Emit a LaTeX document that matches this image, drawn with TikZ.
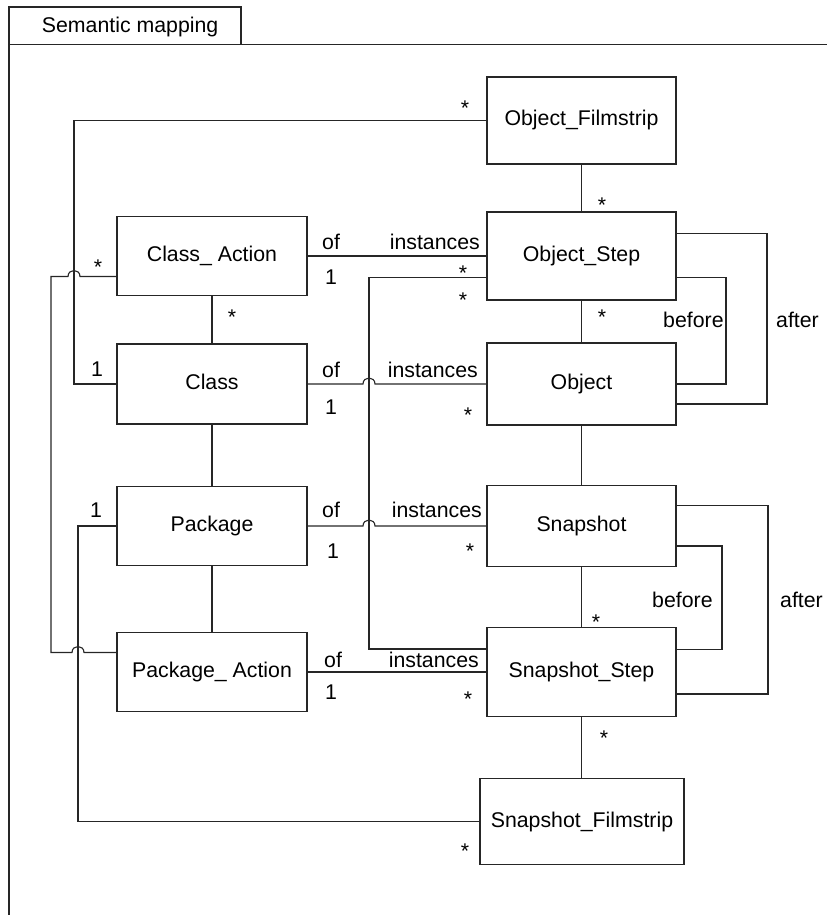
\documentclass[tikz,border=0pt]{standalone}
\usepackage{fontspec}
\setmainfont{Liberation Sans}
\begin{document}
\begin{tikzpicture}[x=1pt, y=-1pt,
  font=\fontsize{21.3}{25}\selectfont,
  box/.style={draw=black!85, line width=1.1pt, inner sep=0pt,
              text height=15.5pt, text depth=4.5pt},
  conn/.style={draw=black!85, line width=1.1pt},
  lbl/.style={inner sep=0pt}]
\useasboundingbox (0,0) rectangle (827,915);

% frame with its name tab
\draw[conn] (9,915) -- (9,7) -- (241,7) -- (241,44.7);
\draw[conn] (9,44.7) -- (827,44.7);
\node[lbl, anchor=base west] (title) at (41.7,32.5) {Semantic mapping};

% classes on the left
\node[box, minimum width=190pt, minimum height=79pt] (cact) at (212,256) {Class\_ Action};
\node[box, minimum width=190pt, minimum height=80pt] (cls)  at (212,384) {Class};
\node[box, minimum width=190pt, minimum height=79pt] (pkg)  at (212,526) {Package};
\node[box, minimum width=190pt, minimum height=79pt] (pact) at (212,672) {Package\_ Action};

% instances on the right
\node[box, minimum width=189pt, minimum height=87pt] (ofilm) at (581.5,120.5) {Object\_Filmstrip};
\node[box, minimum width=189pt, minimum height=88pt] (ostep) at (581.5,256) {Object\_Step};
\node[box, minimum width=189pt, minimum height=82pt] (obj)   at (581.5,384) {Object};
\node[box, minimum width=189pt, minimum height=81pt] (snap)  at (581.5,526) {Snapshot};
\node[box, minimum width=189pt, minimum height=89pt] (sstep) at (581.5,672) {Snapshot\_Step};
\node[box, minimum width=204pt, minimum height=86pt] (sfilm) at (582,821.5) {Snapshot\_Filmstrip};

% vertical associations
\draw[conn] (cact.south) -- (cls.north);
\draw[conn] (cls.south) -- (pkg.north);
\draw[conn] (pkg.south) -- (pact.north);
\draw[conn] (ofilm.south) -- (ostep.north);
\draw[conn] (ostep.south) -- (obj.north);
\draw[conn] (obj.south) -- (snap.north);
\draw[conn] (snap.south) -- (sstep.north);
\draw[conn] (sstep.south) -- (sstep.south |- sfilm.north);

% of / instances associations
\draw[conn] (cact.east) -- (ostep.west);
\draw[conn] (cls.east) -- (363,384) .. controls (363,376) and (375,376) .. (375,384) -- (obj.west);
\draw[conn] (pkg.east) -- (363,526) .. controls (363,518) and (375,518) .. (375,526) -- (snap.west);
\draw[conn] (pact.east) -- (sstep.west);
\draw[conn] ([yshift=-21.5pt]ostep.west) -| (369,649) -- ([yshift=23pt]sstep.west);

% long associations on the left
\draw[conn] (ofilm.west) -| (74,384) -- (cls.west);
\draw[conn] ([yshift=-20.5pt]cact.west) -- (80,276.5)
  .. controls (80,268.5) and (68,268.5) .. (68,276.5) -- (51,276.5) -- (51,652.5)
  -- (72,652.5) .. controls (72,644.5) and (84,644.5) .. (84,652.5)
  -- ([yshift=19.5pt]pact.west);
\draw[conn] (pkg.west) -| (78,821.5) -- (sfilm.west);

% before / after loops
\draw[conn] ([yshift=22.5pt]ostep.east) -| (767,404) -- ([yshift=-20pt]obj.east);
\draw[conn] ([yshift=-21.5pt]ostep.east) -| (726,384) -- (obj.east);
\draw[conn] ([yshift=20.5pt]snap.east) -| (768,694) -- ([yshift=-22pt]sstep.east);
\draw[conn] ([yshift=-20pt]snap.east) -| (722,649.5) -- ([yshift=22.5pt]sstep.east);

% role names and multiplicities
\node[lbl, anchor=base west] (of1) at (322,249) {of};
\node[lbl, anchor=base east] (in1) at (480,249) {instances};
\node[lbl, anchor=base] (m1a) at (331,284) {1};
\node[lbl, anchor=base] (m1b) at (463,280) {*};
\node[lbl, anchor=base] (m5a) at (463,307) {*};

\node[lbl, anchor=base west] (of2) at (322,377) {of};
\node[lbl, anchor=base east] (in2) at (478,377) {instances};
\node[lbl, anchor=base] (m2a) at (331,414) {1};
\node[lbl, anchor=base] (m2b) at (468,422) {*};

\node[lbl, anchor=base west] (of3) at (322,517) {of};
\node[lbl, anchor=base east] (in3) at (482,517) {instances};
\node[lbl, anchor=base] (m3a) at (333,558.5) {1};
\node[lbl, anchor=base] (m3b) at (470,558) {*};

\node[lbl, anchor=base west] (of4) at (324,667) {of};
\node[lbl, anchor=base east] (in4) at (479,667) {instances};
\node[lbl, anchor=base] (m4a) at (331,699) {1};
\node[lbl, anchor=base] (m4b) at (468,706) {*};

\node[lbl, anchor=base] (v1) at (602,212) {*};
\node[lbl, anchor=base] (v2) at (602,324) {*};
\node[lbl, anchor=base] (v3) at (232,324) {*};
\node[lbl, anchor=base] (v4) at (596,629) {*};
\node[lbl, anchor=base] (v5) at (604,745) {*};

\node[lbl, anchor=base] (l1a) at (465,116) {*};
\node[lbl, anchor=base] (l1b) at (97,376) {1};
\node[lbl, anchor=base] (l2a) at (98,274) {*};
\node[lbl, anchor=base] (l3a) at (96,517.5) {1};
\node[lbl, anchor=base] (l3b) at (465,858) {*};

\node[lbl, anchor=base west] (bf1) at (663,327) {before};
\node[lbl, anchor=base west] (af1) at (776,327) {after};
\node[lbl, anchor=base west] (bf2) at (652,607) {before};
\node[lbl, anchor=base west] (af2) at (780,607) {after};
\end{tikzpicture}
\end{document}
